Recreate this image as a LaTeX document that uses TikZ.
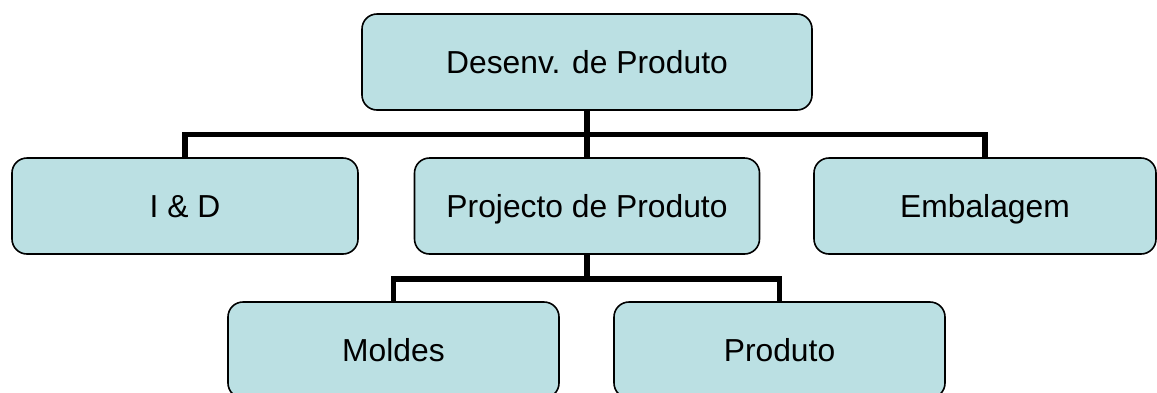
\documentclass[tikz,border=0pt]{standalone}
\usepackage{fontspec}
\setmainfont{Liberation Sans}
\definecolor{boxfill}{RGB}{187,224,227}
\begin{document}
\begin{tikzpicture}[x=1pt,y=1pt,
  orgbox/.style={draw=black, line width=1.6pt, fill=boxfill, rounded corners=15pt,
    inner sep=0pt, minimum height=96pt, text height=22.8pt, text depth=0pt,
    font=\fontsize{31.8}{36}\selectfont},
  conn/.style={draw=black, line width=5.5pt, line join=miter}]
\useasboundingbox (0,0) rectangle (1157,-392);
\clip (0,0) rectangle (1157,-392);
\node[orgbox, minimum width=450pt] (top) at (587,-62) {Desenv. de Produto};
\node[orgbox, minimum width=346pt] (iad) at (185,-206) {I \& D};
\node[orgbox, minimum width=345pt] (proj) at (587,-206) {Projecto de Produto};
\node[orgbox, minimum width=342pt] (emb) at (985,-206) {Embalagem};
\node[orgbox, minimum width=331pt] (mol) at (393.5,-350) {Moldes};
\node[orgbox, minimum width=331pt] (prod) at (779.5,-350) {Produto};
\coordinate (bus1) at (587,-134.5);
\coordinate (bus2) at (587,-279);
\draw[conn] (top.south) -- (bus1);
\draw[conn] (iad.north) |- (bus1) -| (emb.north);
\draw[conn] (bus1) -- (proj.north);
\draw[conn] (proj.south) -- (bus2);
\draw[conn] (mol.north) |- (bus2) -| (prod.north);
\end{tikzpicture}
\end{document}
